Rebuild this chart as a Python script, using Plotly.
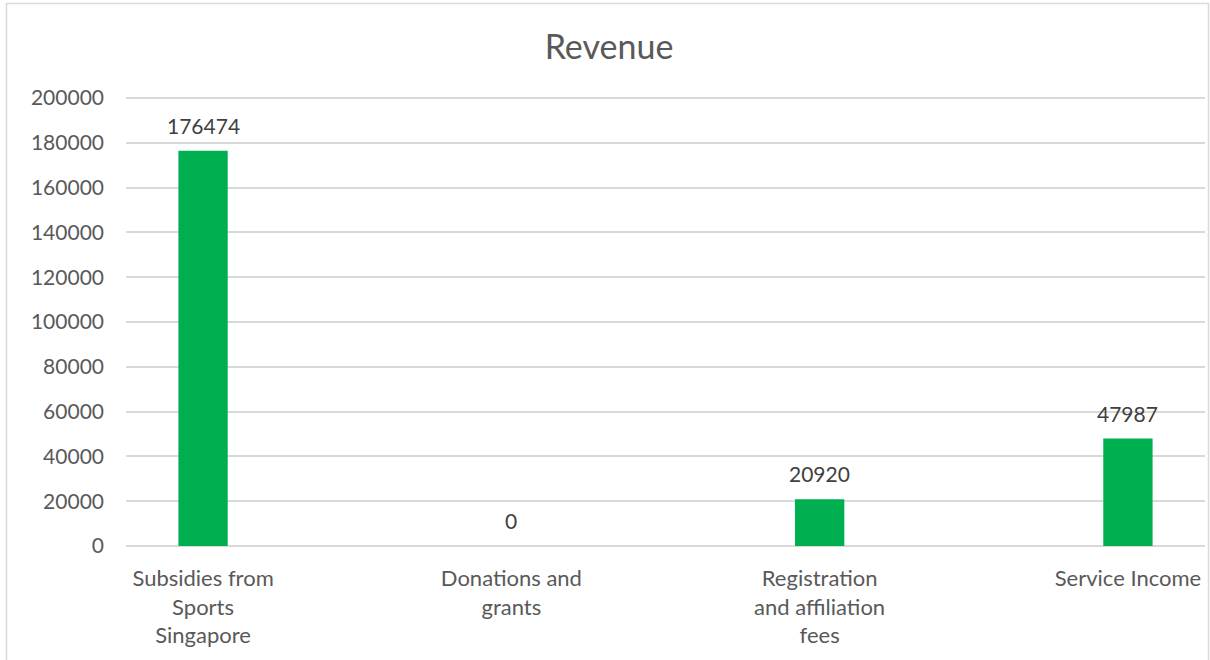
import plotly.graph_objects as go

categories = ["Subsidies from<br>Sports<br>Singapore", "Donations and<br>grants",
              "Registration<br>and affiliation<br>fees", "Service Income"]
values = [176474, 0, 20920, 47987]
y_ticks = [0, 20000, 40000, 60000, 80000, 100000, 120000, 140000, 160000, 180000, 200000]

FONT = "Lato"
TXT = "#595959"

fig = go.Figure(go.Bar(
    x=list(range(len(categories))),
    y=values,
    marker=dict(color="#00B050", line=dict(width=0)),
    width=0.16,
))

for i, v in enumerate(values):
    fig.add_annotation(x=i, y=v, xref="x", yref="y", text=str(v), showarrow=False,
                       yanchor="bottom", yshift=11,
                       font=dict(family=FONT, size=21, color="#404040"))

fig.update_layout(
    width=1210, height=660,
    margin=dict(l=126, r=5, t=97, b=114),
    paper_bgcolor="white", plot_bgcolor="white",
    showlegend=False,
    title=dict(text="Revenue", x=609 / 1210, xref="container", xanchor="center",
               y=1 - 47 / 660, yref="container", yanchor="middle",
               font=dict(family=FONT, size=34, color=TXT)),
    font=dict(family=FONT, color=TXT),
    xaxis=dict(tickmode="array", tickvals=list(range(len(categories))), ticktext=categories,
               range=[-0.25, 3.25], showgrid=False, zeroline=False, showline=False,
               ticklabelstandoff=17,
               tickfont=dict(family=FONT, size=22, color=TXT), ticks=""),
    yaxis=dict(range=[0, 200450], tickmode="array", tickvals=y_ticks,
               ticktext=[str(t) for t in y_ticks],
               showgrid=True, gridcolor="#D9D9D9", gridwidth=1.5,
               zeroline=True, zerolinecolor="#D9D9D9", zerolinewidth=1.5,
               showline=False, ticks="", ticklabelstandoff=21,
               tickfont=dict(family=FONT, size=21, color=TXT)),
    shapes=[dict(type="rect", xref="paper", yref="paper",
                 x0=(6.5 - 126) / 1079, x1=(1208.5 - 126) / 1079,
                 y0=(546 - 670) / 449, y1=(546 - 3.5) / 449,
                 line=dict(color="#D9D9D9", width=1.5), fillcolor="rgba(0,0,0,0)", layer="below")],
)

fig.write_html("out.html")
